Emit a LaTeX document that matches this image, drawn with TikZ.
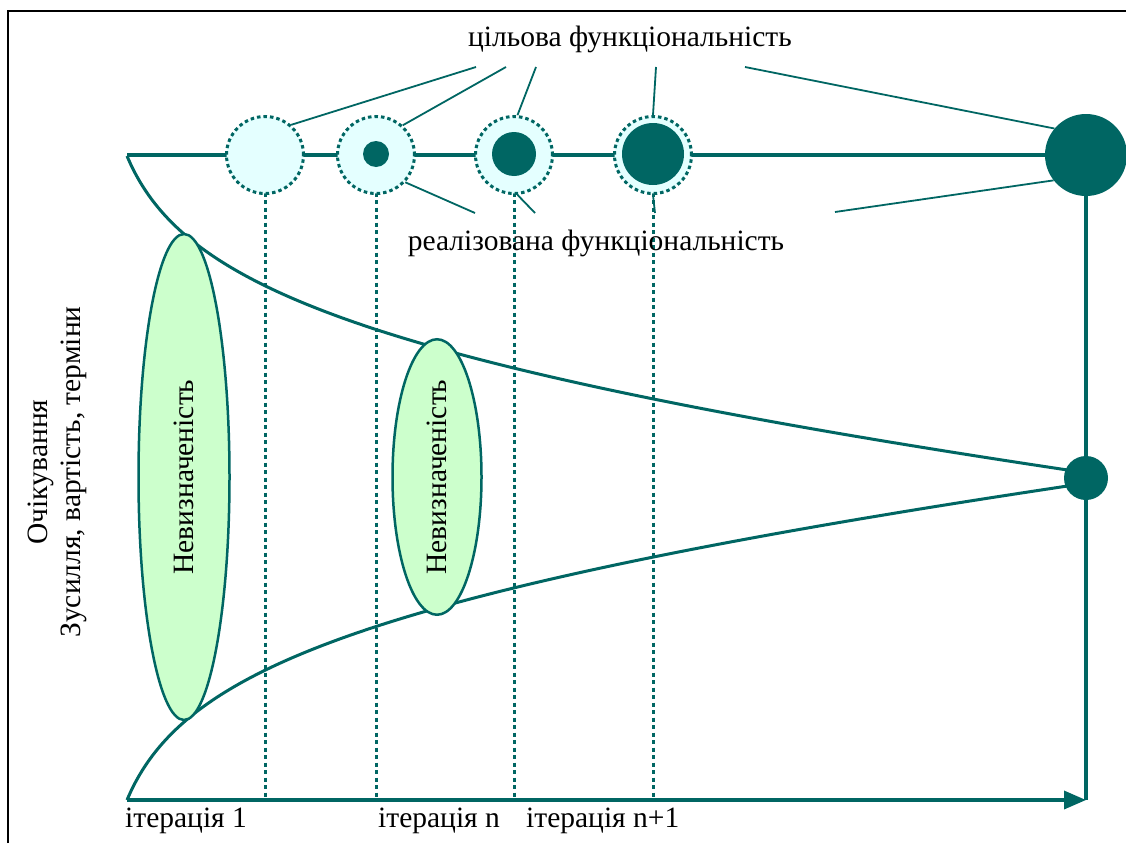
\documentclass[tikz,border=0pt]{standalone}
\usepackage{fontspec}
\setmainfont{Liberation Serif}
\usetikzlibrary{arrows.meta,shapes.geometric}
\definecolor{tl}{RGB}{0,102,99}
\definecolor{cyanfill}{RGB}{228,255,255}
\definecolor{greenfill}{RGB}{204,255,204}
\begin{document}
\begin{tikzpicture}[x=1pt,y=-1pt,
  mainline/.style={draw=tl, line width=3.5pt},
  curveline/.style={draw=tl, line width=3pt},
  dashline/.style={draw=tl, line width=3pt, dash pattern=on 4pt off 3.5pt},
  leader/.style={draw=tl, line width=1.8pt},
  target/.style={circle, draw=tl, fill=cyanfill, line width=3pt, dash pattern=on 3.5pt off 3pt, minimum size=77pt, inner sep=0pt},
  done/.style={circle, fill=tl, inner sep=0pt},
  unc/.style={ellipse, draw=tl, fill=greenfill, line width=2.5pt, inner sep=0pt, rotate=90, font=\fontsize{29.5}{34}\selectfont},
  lbl/.style={font=\fontsize{29.5}{34}\selectfont, inner sep=0pt}
]
\useasboundingbox (0,0) rectangle (1126,843);
\fill[white] (0,0) rectangle (1126,843);
\draw[black, line width=2.2pt] (8,843) -- (8,11) -- (1126,11);

% positions
\coordinate (o) at (127,155);
\coordinate (origin) at (127,800);
\coordinate (axisend) at (1086,800);
\coordinate (p1) at (265,155);
\coordinate (p2) at (376,155);
\coordinate (p3) at (514,155);
\coordinate (p4) at (653,155);
\coordinate (pb) at (1086,155);
\coordinate (ps) at (1086,478);
\coordinate (b1) at (265,800);
\coordinate (b2) at (376,800);
\coordinate (b3) at (514,800);
\coordinate (b4) at (653,800);

% base lines
\draw[mainline] (o) -- (pb);
\draw[dashline] (p1) -- (b1);
\draw[dashline] (p2) -- (b2);
\draw[dashline] (p3) -- (b3);
\draw[dashline] (p4) -- (b4);
\draw[mainline] (pb) -- (axisend);
\draw[mainline, -{Triangle[length=22pt,width=18pt]}] (origin) -- (axisend);

% curves (expectation funnel)
\draw[curveline] plot[domain=0:950, samples=220, smooth] ({127+\x}, {156+69*ln(1+\x/30)+0.0788*\x});
\draw[curveline] plot[domain=0:950, samples=220, smooth] ({127+\x}, {800-69*ln(1+\x/30)-0.0788*\x});

% uncertainty ellipses
\node[unc, minimum width=486pt, minimum height=91pt] (e1) at (184,477) {Невизначеність};
\node[unc, minimum width=260pt, minimum height=89pt] (e2) at (437,477) {Невизначеність};

% circles
\node[target] (c1) at (p1) {};
\node[target] (c2) at (p2) {};
\node[done, minimum size=26pt] (d2) at (376,154) {};
\node[target] (c3) at (p3) {};
\node[done, minimum size=44pt] (d3) at (514,154) {};
\node[target] (c4) at (p4) {};
\node[done, minimum size=62pt] (d4) at (653,154) {};
\node[done, minimum size=82pt] (big) at (pb) {};
\node[done, minimum size=44pt] (small) at (ps) {};

% labels
\node[lbl, anchor=base] (tt) at (630,47) {цільова функціональність};
\node[lbl, anchor=base] (rt) at (596,250) {реалізована функціональність};
\node[lbl, anchor=base west] (i1) at (125,827) {ітерація 1};
\node[lbl, anchor=base west] (in) at (378,827) {ітерація n};
\node[lbl, anchor=base west] (in1) at (526,827) {ітерація n+1};
\node[lbl, rotate=90, align=center, font=\fontsize{29.5}{33}\selectfont] (ax) at (57,472) {Очікування\\Зусилля, вартість, терміни};

% leader lines
\coordinate (t1) at (476,67);
\coordinate (t2) at (506,67);
\coordinate (t3) at (536,67);
\coordinate (t4) at (656,67);
\coordinate (t5) at (745,67);
\coordinate (r2) at (475,213);
\coordinate (r3) at (535,213);
\coordinate (r4) at (655,213);
\coordinate (r5) at (835,212);
\draw[leader] (t1) -- (c1.49);
\draw[leader] (t2) -- (c2.48);
\draw[leader] (t3) -- (c3.85);
\draw[leader] (t4) -- (c4.north);
\draw[leader] (t5) -- (big.140);
\draw[leader] (r2) -- (c2.-43);
\draw[leader] (r3) -- (c3.-85);
\draw[leader] (r4) -- (c4.south);
\draw[leader] (r5) -- (big.218);
\end{tikzpicture}
\end{document}
